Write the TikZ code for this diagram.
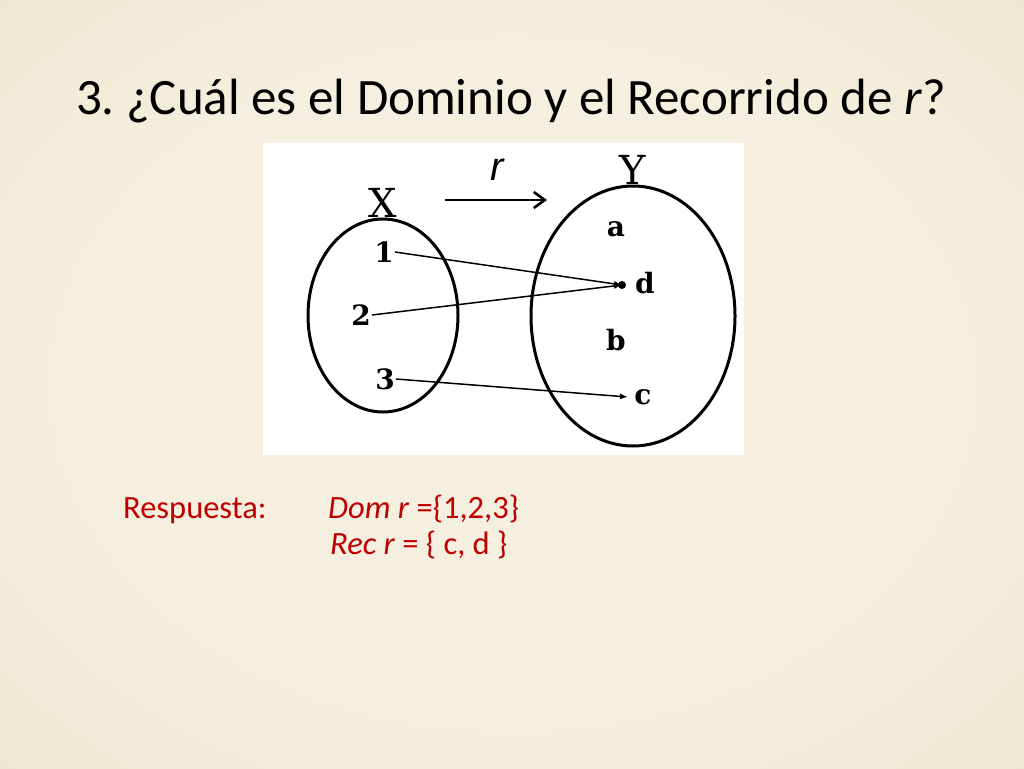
\documentclass[tikz,border=0pt]{standalone}
\usepackage{fontspec}
\setmainfont{Carlito}
\newfontfamily\diagserif{DejaVu Serif}
\newfontfamily\diagsans{Liberation Sans}
\usetikzlibrary{arrows.meta,shapes.geometric}
\definecolor{bgin}{HTML}{F4EFDE}
\definecolor{bgmid}{HTML}{E8E0C4}
\definecolor{bgout}{HTML}{D0C49C}
\definecolor{ansred}{HTML}{C00000}
\pgfdeclareradialshading{slidebg}{\pgfpoint{0bp}{0bp}}{color(0bp)=(bgin); color(22bp)=(bgin); color(50bp)=(bgmid); color(71bp)=(bgout)}
\tikzset{
  setell/.style={draw=black, ellipse, line width=3pt, inner sep=0pt},
  elt/.style={font=\diagserif\bfseries\fontsize{28}{32}\selectfont, inner sep=1pt},
  setlbl/.style={font=\diagserif\fontsize{40}{46}\selectfont, inner sep=0pt},
  conn/.style={line width=1.5pt, -{Latex[length=8pt,width=6pt]}},
  dotnode/.style={circle, fill=black, inner sep=0pt, minimum size=8pt},
  rarrow/.style={line width=2.6pt, -{Straight Barb[length=11pt,width=16pt,line width=2.6pt]}},
  ans/.style={text=ansred, font=\fontsize{32.5}{38}\selectfont, anchor=base west, inner sep=0pt}
}
\begin{document}
\frenchspacing
\begin{tikzpicture}[x=1pt,y=-1pt]
\useasboundingbox (0,0) rectangle (1024,768);
\shade[shading=slidebg] (0,0) rectangle (1024,768);

% title
\node[anchor=base, font=\fontsize{51}{60}\selectfont, inner sep=0pt] (title) at (511,114)
  {3. ¿Cuál es el Dominio y el Recorrido de \textit{r}?};

% white picture panel
\fill[white] (263,143) rectangle (744,455);

% sets
\node[setell, minimum width=150pt, minimum height=193pt] (X) at (383,315.5) {};
\node[setell, minimum width=204pt, minimum height=260pt] (Y) at (633,316) {};
\node[setlbl] (Xl) at (383,203) {X};
\node[setlbl] (Yl) at (633,170) {Y};

% elements
\node[elt] (n1) at (384,252) {1};
\node[elt] (n2) at (361,315) {2};
\node[elt] (n3) at (385,379) {3};
\node[elt] (ea) at (616,229) {a};
\node[elt] (ed) at (645,283) {d};
\node[elt] (eb) at (616,340) {b};
\node[elt] (ec) at (643,397) {c};
\node[dotnode] (dd) at (622,285) {};
\coordinate (ctip) at (628,397);

% connectors
\draw[conn] (n1.east) -- (dd.center);
\draw[conn] (n2.east) -- (dd.center);
\draw[conn] (n3.east) -- (ctip);

% relation arrow r
\coordinate (ra) at (445,200);
\coordinate (rb) at (547,200);
\draw[rarrow] (ra) -- (rb);
\node[font=\diagsans\itshape\fontsize{40}{44}\selectfont, inner sep=0pt] (rl) at (497,170) {r};

% answer
\node[ans] (resp) at (123,518) {Respuesta:};
\node[ans] (dom) at (328,518) {\textit{Dom r} =\{1,2,3\}};
\node[ans] (rec) at (330,554) {\textit{Rec r} = \{ c, d \}};
\end{tikzpicture}
\end{document}
